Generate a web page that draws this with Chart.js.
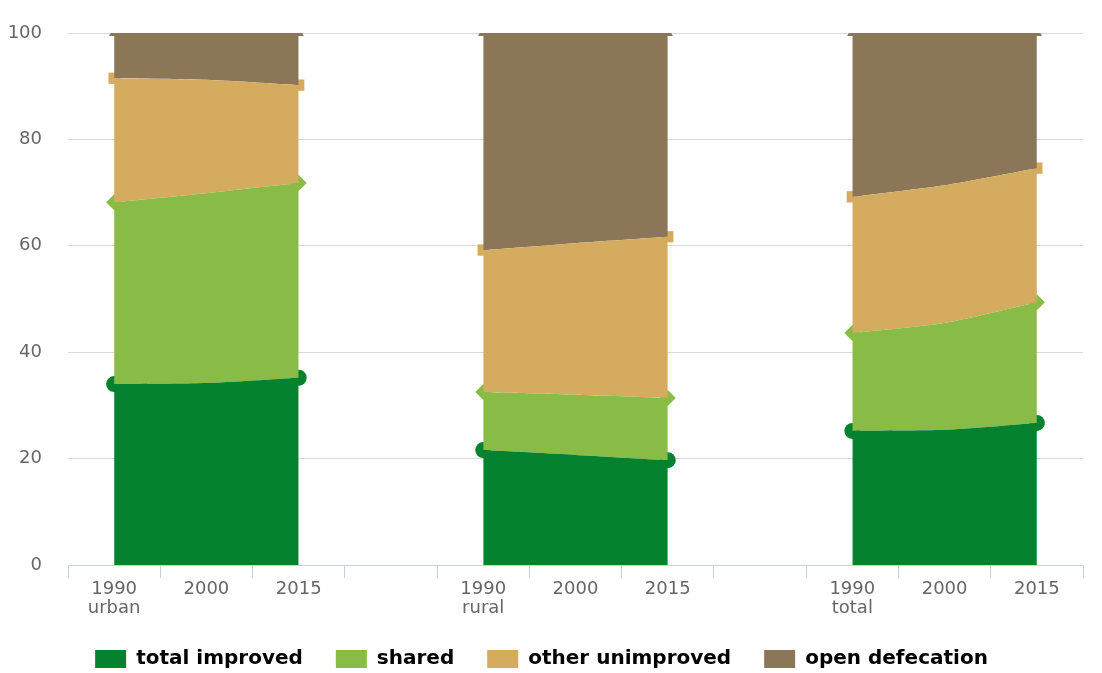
<!DOCTYPE html>
<html>
<head>
<meta charset="utf-8">
<script src="https://cdn.jsdelivr.net/npm/chart.js@4/dist/chart.umd.min.js"></script>
<style>
  html, body { margin: 0; padding: 0; background: #fff; }
  #wrap { width: 1102px; height: 673px; position: relative; }
</style>
</head>
<body>
<div id="wrap"><canvas id="c"></canvas></div>
<script>
const categories = [['1990','urban'],'2000','2015','',['1990','rural'],'2000','2015','',['1990','total'],'2000','2015'];
const seriesNames = ['total improved','shared','other unimproved','open defecation'];
const totalImproved  = [34.0, 34.2, 35.2, null, 21.6, 20.7, 19.7, null, 25.2, 25.4, 26.7];
const shared         = [34.2, 35.7, 36.6, null, 10.9, 11.3, 11.7, null, 18.4, 20.1, 22.7];
const otherUnimproved= [23.3, 21.3, 18.4, null, 26.7, 28.5, 30.3, null, 25.6, 25.9, 25.2];
const openDefecation = [ 8.5,  8.8,  9.8, null, 40.8, 39.5, 38.3, null, 30.8, 28.6, 25.4];
const yTicks = [0, 20, 40, 60, 80, 100];

const colors = ['#04822f', '#88bc47', '#d5ab5f', '#8b7757'];
const styles = ['circle', 'rectRot', 'rect', 'triangle'];
const radii  = [8, 8, 8, 6];
const values = [totalImproved, shared, otherUnimproved, openDefecation];
const endIdx = [0, 2, 4, 6, 8, 10];

// stacked area datasets
const areaSets = values.map((v, i) => ({
  label: seriesNames[i],
  data: v,
  stack: 'main',
  order: 0,
  backgroundColor: colors[i],
  borderColor: colors[i],
  borderWidth: 0,
  fill: i === 0 ? 'origin' : '-1',
  tension: 0.2,
  spanGaps: false,
  pointRadius: 0,
  pointHoverRadius: 0
}));

// marker datasets (drawn behind the areas), at the top edge of each stacked band
const markerSets = values.map((v, i) => ({
  label: seriesNames[i] + ' marker',
  data: v.map((_, k) => v[k] == null ? null : values.slice(0, i + 1).reduce((s, arr) => s + arr[k], 0)),
  stack: 'm' + i,
  order: 1,
  showLine: false,
  fill: false,
  borderWidth: 0,
  pointStyle: styles[i],
  pointBackgroundColor: colors[i],
  pointBorderColor: colors[i],
  pointBorderWidth: 0,
  pointRadius: ctx => (ctx.raw == null ? 0 : (i === 3 || endIdx.includes(ctx.dataIndex) ? radii[i] : 0)),
  pointHoverRadius: 0
}));

new Chart(document.getElementById('c'), {
  type: 'line',
  data: { labels: categories, datasets: areaSets.concat(markerSets) },
  options: {
    responsive: true,
    maintainAspectRatio: false,
    animation: false,
    events: [],
    layout: { autoPadding: false, padding: { top: 33, right: 19, left: 0, bottom: -6 } },
    plugins: {
      legend: {
        position: 'bottom',
        labels: {
          color: '#333',
          font: { family: 'DejaVu Sans', size: 20, weight: 'bold' },
          boxWidth: 31,
          boxHeight: 18,
          padding: 33,
          generateLabels: chart => seriesNames.map((name, i) => ({
            text: name, fillStyle: colors[i], strokeStyle: colors[i], lineWidth: 0, datasetIndex: i, hidden: false
          }))
        }
      },
      tooltip: { enabled: false },
      title: { display: false }
    },
    scales: {
      x: {
        offset: true,
        grid: { offset: true, drawOnChartArea: false, drawTicks: true, tickLength: 13, color: '#c5d3e0' },
        border: { display: true, color: '#c5d3e0', width: 1 },
        afterFit: s => { s.height = 51; },
        ticks: { color: '#666', font: { family: 'DejaVu Sans', size: 18, lineHeight: 1.1 }, padding: 1, maxRotation: 0, autoSkip: false }
      },
      y: {
        stacked: true,
        min: 0,
        max: 100,
        afterBuildTicks: s => { s.ticks = yTicks.map(v => ({ value: v })); },
        afterFit: s => { s.width = 68; s.paddingTop = 0; s.paddingBottom = 0; },
        grid: { color: '#d9d9d9', drawTicks: false },
        border: { display: false },
        ticks: { color: '#666', font: { family: 'DejaVu Sans', size: 18 }, padding: 26 }
      }
    }
  }
});
</script>
</body>
</html>
